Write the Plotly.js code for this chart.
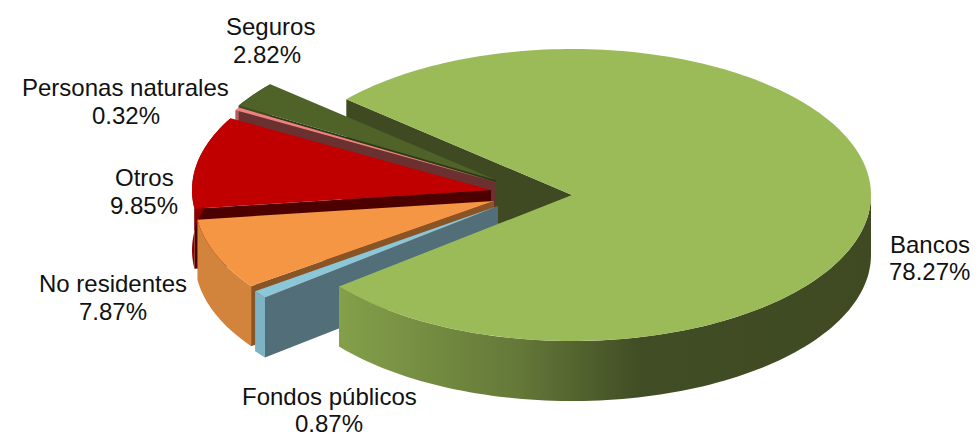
<!DOCTYPE html>
<html><head><meta charset="utf-8">
<script src="https://cdn.plot.ly/plotly-3.0.1.min.js"></script>
<style>html,body{margin:0;padding:0;background:#fff}#c{width:979px;height:437px}</style>
</head><body><div id="c"></div>
<script>
// Data
const categories = ["Bancos","Fondos públicos","No residentes","Otros","Personas naturales","Seguros"];
const shares = [78.27,0.87,7.87,9.85,0.32,2.82];

// Drawing geometry of the exploded 3D pie
const radiusX = 299, radiusY = 146, depth = 60, startDeg = 38.8, farWarp = 1.6;
const apexX = [572,498,494,491,496,496];
const apexY = [195,206,201,190,182,180];
const topColors  = ["#9bbb59","#8bc6d9","#f59645","#c00000","#f08080","#4f6228"];
const wallColors = ["#3f4a22","#516e79","#8a5526","#4d0000","#6b3030","#2e3a16"];
const sideColors = ["#414d24","#7eb3c6","#d3843c","#8c0000","#b06060","#3c4a1e"];
const nameX = [929.5,329,113,144.5,125.5,270];
const pctX  = [929.5,328.5,113,144,125.5,266.5];
const nameY = [244,396,283,177,87,26];
const pctY  = [271,423,311,205,115,54];
const bancosGradient = [[0,"#84a04a"],[0.34,"#647838"],[0.565,"#414d24"],[1,"#3f4a22"]];

const rad = d => d*Math.PI/180;
function warp(deg){
  let d = ((deg+180)%360+360)%360-180;
  return d<0 ? d+farWarp*Math.sin(rad(2*d)) : d;
}
const pt = (i,deg,dz) => {
  const w = warp(deg);
  return [apexX[i]-radiusX*Math.cos(rad(w)), apexY[i]+radiusY*Math.sin(rad(w))+(dz||0)];
};
function arc(i,a,b,dz){
  const n = Math.max(2,Math.ceil(Math.abs(b-a)/1.5)), out=[];
  for(let k=0;k<=n;k++) out.push(pt(i,a+(b-a)*k/n,dz));
  return out;
}
function poly(points,color,name,extra){
  const xs=points.map(p=>p[0]), ys=points.map(p=>p[1]);
  xs.push(xs[0]); ys.push(ys[0]);
  return Object.assign({type:"scatter",mode:"none",x:xs,y:ys,fill:"toself",fillcolor:color,
    name:name,hoverinfo:"name",showlegend:false},extra||{});
}
// angular span of each slice
const spans=[]; let cur=startDeg;
shares.forEach((s,i)=>{const sweep=s/100*360; spans.push([cur, cur+(i===0?sweep:-sweep)]); if(i>0){cur-=sweep;}});

function wall(i,deg){
  const o=pt(i,deg,0), a=[apexX[i],apexY[i]];
  return [a,o,[o[0],o[1]+depth],[a[0],a[1]+depth]];
}
const traces=[];
// Bancos rear wall first
traces.push(poly(wall(0,spans[0][1]),wallColors[0],categories[0]));
// Back-to-front exploded slices
[5,4,3,2,1].forEach(i=>{
  const [a,b]=spans[i], name=categories[i];
  traces.push(poly(wall(i,a),wallColors[i],name));
  const side=arc(i,a,b,0).concat(arc(i,b,a,depth));
  traces.push(poly(side,sideColors[i],name));
  traces.push(poly([[apexX[i],apexY[i]]].concat(arc(i,a,b,0)),topColors[i],name));
});
// Bancos front side and top
traces.push(poly(arc(0,spans[0][0],180,0).concat(arc(0,180,spans[0][0],depth)),sideColors[0],categories[0],
  {fillgradient:{type:"horizontal",colorscale:bancosGradient}}));
traces.push(poly([[apexX[0],apexY[0]]].concat(arc(0,spans[0][0],spans[0][1],0)),topColors[0],categories[0]));

const labelFont={family:"Liberation Sans, Arial, sans-serif",size:24,color:"#111"};
const annotations=[];
categories.forEach((c,i)=>{
  annotations.push({x:nameX[i],y:nameY[i],xref:"x",yref:"y",showarrow:false,text:c,font:labelFont});
  annotations.push({x:pctX[i],y:pctY[i],xref:"x",yref:"y",showarrow:false,text:shares[i].toFixed(2)+"%",font:labelFont});
});

Plotly.newPlot("c",traces,{
  width:979,height:437,margin:{l:0,r:0,t:0,b:0},
  paper_bgcolor:"#fff",plot_bgcolor:"#fff",showlegend:false,
  xaxis:{range:[0,979],visible:false,fixedrange:true},
  yaxis:{range:[437,0],visible:false,fixedrange:true},
  annotations:annotations
},{displayModeBar:false,staticPlot:true});
</script></body></html>
